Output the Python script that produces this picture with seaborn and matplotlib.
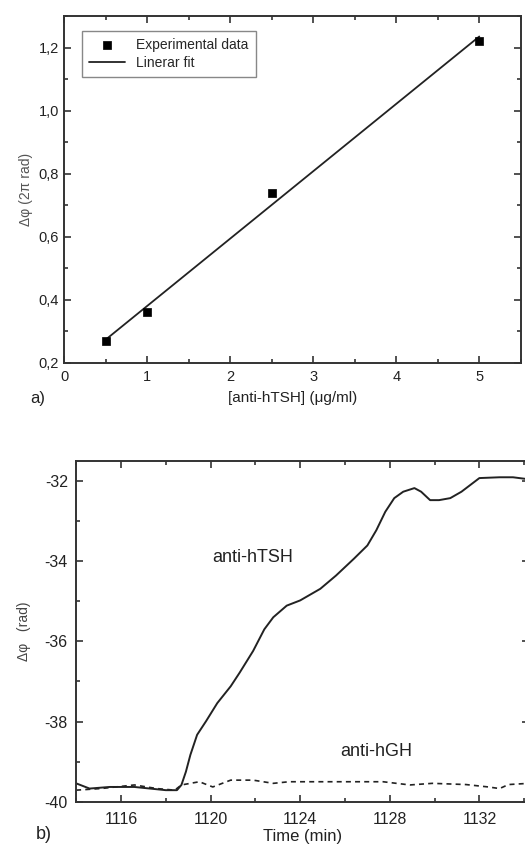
import numpy as np
import pandas as pd
import matplotlib
matplotlib.use("Agg")
import matplotlib.pyplot as plt
import seaborn as sns
from matplotlib.ticker import MultipleLocator, FuncFormatter

# panel a) calibration data
conc = [0.5, 1.0, 2.5, 5.0]
dphi_2pi = [0.27, 0.36, 0.74, 1.22]

# panel b) time traces (read off the figure)
t_tsh = [1114.0, 1114.6, 1115.5, 1116.6, 1117.3, 1118.0, 1118.5, 1118.7, 1118.9,
         1119.1, 1119.4, 1119.8, 1120.3, 1120.9, 1121.3, 1121.9, 1122.4, 1122.8,
         1123.4, 1124.0, 1124.9, 1125.6, 1126.4, 1127.0, 1127.4, 1127.8, 1128.2,
         1128.6, 1129.1, 1129.4, 1129.8, 1130.2, 1130.7, 1131.2, 1131.6, 1132.0,
         1132.9, 1133.5, 1134.2]
phi_tsh = [-39.54, -39.67, -39.63, -39.63, -39.67, -39.71, -39.71, -39.58, -39.25,
           -38.83, -38.33, -37.99, -37.54, -37.12, -36.78, -36.24, -35.70, -35.40,
           -35.11, -34.98, -34.69, -34.36, -33.94, -33.61, -33.23, -32.77, -32.43,
           -32.27, -32.18, -32.27, -32.48, -32.48, -32.43, -32.27, -32.10, -31.93,
           -31.91, -31.91, -31.96]
t_hgh = [1114.0, 1115.1, 1116.6, 1117.6, 1118.4, 1118.7, 1119.5, 1120.1, 1120.9,
         1121.9, 1122.8, 1123.5, 1124.7, 1126.2, 1127.7, 1128.9, 1129.9, 1131.4,
         1132.4, 1132.9, 1133.3, 1134.2]
phi_hgh = [-39.71, -39.67, -39.58, -39.67, -39.71, -39.58, -39.50, -39.63, -39.46,
           -39.46, -39.54, -39.50, -39.50, -39.50, -39.50, -39.58, -39.54, -39.57,
           -39.63, -39.67, -39.57, -39.54]

sns.set_style("ticks")
plt.rcParams['font.family'] = ['Liberation Sans', 'DejaVu Sans']
plt.rcParams['xtick.direction'] = 'in'
plt.rcParams['ytick.direction'] = 'in'
plt.rcParams['axes.edgecolor'] = '#333333'
plt.rcParams['axes.linewidth'] = 1.4
plt.rcParams['axes.unicode_minus'] = False

fig = plt.figure(figsize=(5.25, 8.44), dpi=100)
ax1 = fig.add_axes([0.122, 0.570, 0.870, 0.411])
ax2 = fig.add_axes([0.145, 0.050, 0.862, 0.404])

comma = FuncFormatter(lambda v, p: f"{v:.1f}".replace('.', ','))

# --- panel a
df_a = pd.DataFrame({"conc": conc, "dphi": dphi_2pi})
slope, icpt = np.polyfit(conc, dphi_2pi, 1)
df_fit = pd.DataFrame({"conc": [conc[0], conc[-1]]})
df_fit["dphi"] = slope * df_fit["conc"] + icpt

sns.scatterplot(data=df_a, x="conc", y="dphi", marker="s", s=40, color="black",
                edgecolor="black", label="Experimental data", ax=ax1, zorder=3)
sns.lineplot(data=df_fit, x="conc", y="dphi", color="#222222", lw=1.3,
             label="Linerar fit", ax=ax1)
ax1.set_xlim(0, 5.5)
ax1.set_ylim(0.2, 1.3)
ax1.xaxis.set_major_locator(MultipleLocator(1))
ax1.xaxis.set_minor_locator(MultipleLocator(0.5))
ax1.yaxis.set_major_locator(MultipleLocator(0.2))
ax1.yaxis.set_minor_locator(MultipleLocator(0.1))
ax1.yaxis.set_major_formatter(comma)
ax1.tick_params(which="both", top=True, right=True, labelsize=10.5, colors="#333333",
                labelcolor="#222222")
ax1.tick_params(which="major", length=5, width=1.2)
ax1.tick_params(which="minor", length=3, width=1.2)
ax1.tick_params(axis="x", pad=5)
ax1.set_xlabel("[anti-hTSH] (\u03bcg/ml)", fontsize=11, color="#222222", labelpad=5)
ax1.set_ylabel("\u0394\u03c6 (2\u03c0 rad)", fontsize=10, color="#555555", labelpad=4)
leg = ax1.legend(loc="upper left", bbox_to_anchor=(0.04, 0.957), borderaxespad=0,
                 fontsize=10, fancybox=False, framealpha=1, edgecolor="#888888",
                 handlelength=2.6, borderpad=0.5, labelspacing=0.3)
fig.text(0.058, 0.522, "a)", fontsize=12, color="#222222")

# --- panel b
df_tsh = pd.DataFrame({"t": t_tsh, "phi": phi_tsh})
df_hgh = pd.DataFrame({"t": t_hgh, "phi": phi_hgh})
sns.lineplot(data=df_tsh, x="t", y="phi", color="#222222", lw=1.4, ax=ax2)
sns.lineplot(data=df_hgh, x="t", y="phi", color="#222222", lw=1.2,
             linestyle=(0, (3, 2.5)), ax=ax2)
ax2.set_xlim(1114, 1134.2)
ax2.set_ylim(-40, -31.5)
ax2.xaxis.set_major_locator(MultipleLocator(4))
ax2.xaxis.set_minor_locator(MultipleLocator(2))
ax2.yaxis.set_major_locator(MultipleLocator(2))
ax2.yaxis.set_minor_locator(MultipleLocator(1))
ax2.tick_params(which="both", top=True, right=True, labelsize=11.5, colors="#333333",
                labelcolor="#222222")
ax2.tick_params(which="major", length=5, width=1.2)
ax2.tick_params(which="minor", length=3, width=1.2)
ax2.tick_params(axis="x", pad=7)
ax2.tick_params(axis="y", pad=6)
ax2.set_xlabel("Time (min)", fontsize=12, color="#222222", labelpad=2)
ax2.set_ylabel("\u0394\u03c6   (rad)", fontsize=10, color="#444444", labelpad=10)
ax2.text(1121.9, -33.9, "anti-hTSH", fontsize=13, ha="center", va="center", color="#222222")
ax2.text(1127.4, -38.74, "anti-hGH", fontsize=13, ha="center", va="center", color="#222222")
fig.text(0.068, 0.006, "b)", fontsize=13, color="#222222")

fig.savefig("out.png", dpi=100)
